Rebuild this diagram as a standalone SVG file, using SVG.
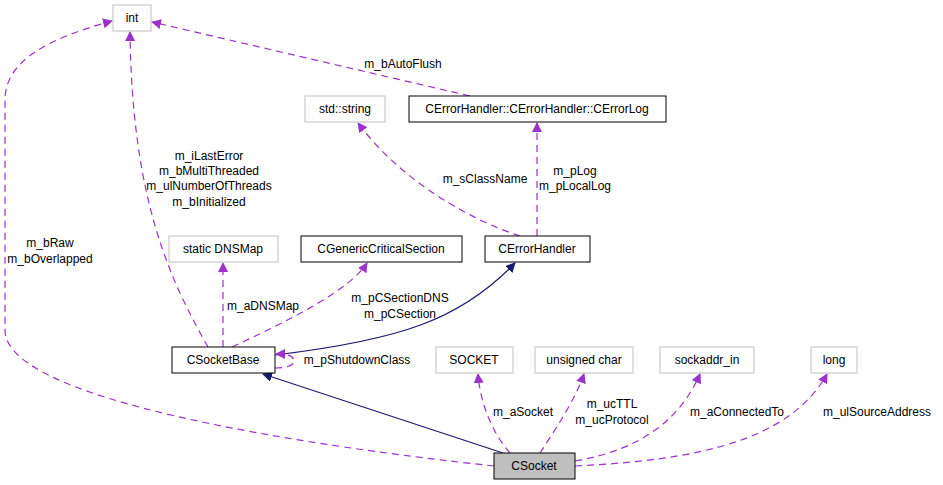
<svg xmlns="http://www.w3.org/2000/svg" width="943" height="485" viewBox="0 0 943 485">
<style>
text{font-family:"Liberation Sans",Arial,sans-serif;font-size:12px;fill:#000}
.n rect{fill:#fff;stroke:#000;stroke-width:1}
.g rect{fill:#fff;stroke:#bfbfbf;stroke-width:1}
.d{fill:none;stroke:#9a32cd;stroke-dasharray:7,5;stroke-width:1.2}
.s{fill:none;stroke:#191970;stroke-width:1.2}
</style>
<defs>
<marker id="ap" markerWidth="10" markerHeight="10" refX="9" refY="5" orient="auto" markerUnits="userSpaceOnUse" viewBox="0 0 10 10"><path d="M0,0L10,5L0,10z" fill="#9a32cd"/></marker>
<marker id="as" markerWidth="10" markerHeight="10" refX="9" refY="5" orient="auto" markerUnits="userSpaceOnUse" viewBox="0 0 10 10"><path d="M0,0L10,5L0,10z" fill="#191970"/></marker>
</defs>
<g id="connectors">
<path class="d" marker-end="url(#ap)" d="M494,466 C300,445 5,400 5,330 L5,100 C5,60 50,38 112,21"/>
<path class="d" marker-end="url(#ap)" d="M470,96 L152,22"/>
<path class="d" marker-end="url(#ap)" d="M208,347 C170,280 132,200 130,32"/>
<path class="d" marker-end="url(#ap)" d="M520,236 C470,220 400,180 358,123"/>
<path class="d" marker-end="url(#ap)" d="M537,236 L537,123"/>
<path class="d" marker-end="url(#ap)" d="M223,347 L223,263"/>
<path class="d" marker-end="url(#ap)" d="M232,347 C290,320 350,290 367,263"/>
<path class="s" marker-end="url(#as)" d="M275,355 C400,340 460,320 515,263"/>
<path class="d" marker-end="url(#ap)" d="M275,368 C290,368 295,364 294,360 C293,356 288,354 276,354"/>
<path class="s" marker-end="url(#as)" d="M503,453 L263,374"/>
<path class="d" marker-end="url(#ap)" d="M510,453 C490,430 480,400 478,374"/>
<path class="d" marker-end="url(#ap)" d="M540,453 C555,430 575,400 584,374"/>
<path class="d" marker-end="url(#ap)" d="M575,461 C640,450 680,420 700,374"/>
<path class="d" marker-end="url(#ap)" d="M575,466 C700,460 790,440 827,374"/>
</g>
<g font-size="12">
<text x="50" y="247" text-anchor="middle">m_bRaw</text>
<text x="50" y="263" text-anchor="middle">m_bOverlapped</text>
<text x="403" y="68" text-anchor="middle">m_bAutoFlush</text>
<text x="209" y="160" text-anchor="middle">m_iLastError</text>
<text x="209" y="175" text-anchor="middle">m_bMultiThreaded</text>
<text x="209" y="190" text-anchor="middle">m_ulNumberOfThreads</text>
<text x="209" y="206" text-anchor="middle">m_bInitialized</text>
<text x="485" y="183" text-anchor="middle">m_sClassName</text>
<text x="575" y="175" text-anchor="middle">m_pLog</text>
<text x="575" y="190" text-anchor="middle">m_pLocalLog</text>
<text x="263" y="310" text-anchor="middle">m_aDNSMap</text>
<text x="400" y="302" text-anchor="middle">m_pCSectionDNS</text>
<text x="400" y="318" text-anchor="middle">m_pCSection</text>
<text x="357" y="364" text-anchor="middle">m_pShutdownClass</text>
<text x="523" y="416" text-anchor="middle">m_aSocket</text>
<text x="612" y="408" text-anchor="middle">m_ucTTL</text>
<text x="612" y="424" text-anchor="middle">m_ucProtocol</text>
<text x="737" y="416" text-anchor="middle">m_aConnectedTo</text>
<text x="877" y="416" text-anchor="middle">m_ulSourceAddress</text>
</g>
<g id="int" class="g"><rect x="113" y="5" width="38" height="26"/><text x="132" y="22" text-anchor="middle">int</text></g>
<g id="stdstring" class="g"><rect x="305" y="96" width="80" height="26"/><text x="345" y="113" text-anchor="middle">std::string</text></g>
<g id="errlog" class="n"><rect x="409" y="96" width="257" height="26"/><text x="537" y="113" text-anchor="middle">CErrorHandler::CErrorHandler::CErrorLog</text></g>
<g id="dnsmap" class="g"><rect x="169" y="236" width="109" height="26"/><text x="223" y="253" text-anchor="middle">static DNSMap</text></g>
<g id="gcs" class="n"><rect x="301" y="236" width="161" height="26"/><text x="381" y="253" text-anchor="middle">CGenericCriticalSection</text></g>
<g id="errh" class="n"><rect x="485" y="236" width="105" height="26"/><text x="537" y="253" text-anchor="middle">CErrorHandler</text></g>
<g id="sockbase" class="n"><rect x="172" y="347" width="103" height="26"/><text x="223" y="364" text-anchor="middle">CSocketBase</text></g>
<g id="socket_t" class="g"><rect x="436" y="347" width="77" height="26"/><text x="474" y="364" text-anchor="middle">SOCKET</text></g>
<g id="uchar" class="g"><rect x="535" y="347" width="98" height="26"/><text x="584" y="364" text-anchor="middle">unsigned char</text></g>
<g id="sockaddr" class="g"><rect x="660" y="347" width="94" height="26"/><text x="707" y="364" text-anchor="middle">sockaddr_in</text></g>
<g id="long" class="g"><rect x="811" y="347" width="46" height="26"/><text x="834" y="364" text-anchor="middle">long</text></g>
<g id="csocket"><rect x="494" y="453" width="81" height="26" fill="#bfbfbf" stroke="#000"/><text x="534" y="470" text-anchor="middle">CSocket</text></g>
</svg>
